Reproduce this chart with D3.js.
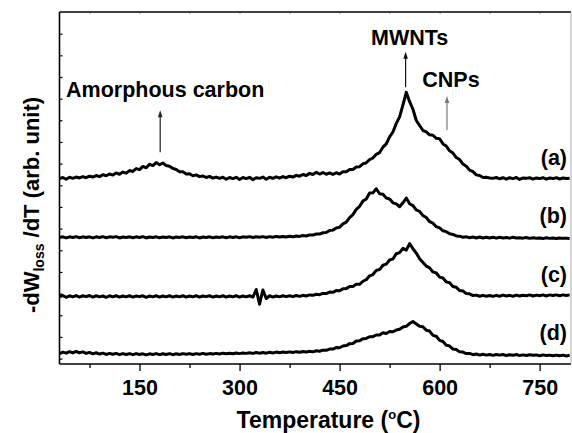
<!DOCTYPE html>
<html>
<head>
<meta charset="utf-8">
<script src="https://cdn.jsdelivr.net/npm/d3@7/dist/d3.min.js"></script>
<style>
  body { margin: 0; background: #fff; }
  svg text { font-family: Arial, "Liberation Sans", sans-serif; font-weight: bold; fill: #000; }
</style>
</head>
<body>
<div id="d3_div"></div>
<script>
// Temperature (deg C) at which the four DTG curves are sampled
var temperature = [
  30, 35, 40, 45, 50, 55, 60, 65, 70, 75,
  80, 85, 90, 95, 100, 105, 110, 115, 120, 125,
  130, 135, 140, 145, 150, 155, 160, 165, 170, 175,
  180, 185, 190, 195, 200, 205, 210, 215, 220, 225,
  230, 235, 240, 245, 250, 255, 260, 265, 270, 275,
  280, 285, 290, 295, 300, 305, 310, 315, 320, 325,
  330, 335, 340, 345, 350, 355, 360, 365, 370, 375,
  380, 385, 390, 395, 400, 405, 410, 415, 420, 425,
  430, 435, 440, 445, 450, 455, 460, 465, 470, 475,
  480, 485, 490, 495, 500, 505, 510, 515, 520, 525,
  530, 535, 540, 545, 550, 555, 560, 565, 570, 575,
  580, 585, 590, 595, 600, 605, 610, 615, 620, 625,
  630, 635, 640, 645, 650, 655, 660, 665, 670, 675,
  680, 685, 690, 695, 700, 705, 710, 715, 720, 725,
  730, 735, 740, 745, 750, 755, 760, 765, 770, 775,
  780, 785, 790, 795];

// -dW/dT of each sample (arb. unit), above its own baseline
var curveA = [
  0.00, 0.05, -0.03, 0.06, 0.01, 0.07, 0.03, 0.09, 0.04, 0.11,
  0.07, 0.14, 0.09, 0.18, 0.13, 0.21, 0.16, 0.26, 0.20, 0.30,
  0.25, 0.37, 0.33, 0.46, 0.41, 0.56, 0.50, 0.66, 0.60, 0.74,
  0.64, 0.72, 0.60, 0.57, 0.47, 0.42, 0.32, 0.31, 0.21, 0.22,
  0.13, 0.17, 0.09, 0.12, 0.05, 0.10, 0.02, 0.07, 0.01, 0.06,
  -0.03, 0.05, 0.00, 0.06, -0.04, 0.05, 0.00, 0.06, -0.05, 0.04,
  0.01, 0.07, -0.03, 0.06, 0.01, 0.08, 0.02, 0.09, 0.04, 0.11,
  0.07, 0.15, 0.11, 0.19, 0.14, 0.24, 0.19, 0.29, 0.21, 0.28,
  0.20, 0.26, 0.19, 0.27, 0.21, 0.31, 0.31, 0.42, 0.42, 0.54,
  0.55, 0.68, 0.73, 0.88, 0.95, 1.12, 1.20, 1.45, 1.60, 1.93,
  2.15, 2.55, 2.85, 3.40, 3.98, 3.55, 3.20, 2.68, 2.45, 2.22,
  2.16, 2.02, 2.00, 1.86, 1.84, 1.60, 1.50, 1.28, 1.18, 0.97,
  0.88, 0.67, 0.57, 0.39, 0.32, 0.17, 0.14, 0.05, 0.06, 0.03,
  0.01, 0.05, -0.01, 0.04, -0.03, 0.04, 0.00, 0.05, -0.04, 0.03,
  0.01, 0.04, -0.03, 0.03, 0.00, 0.04, -0.03, 0.03, 0.00, 0.04,
  -0.02, 0.03, 0.00, 0.02];

var curveB = [
  0.00, 0.03, -0.02, 0.03, 0.00, 0.04, -0.01, 0.03, 0.00, 0.03,
  -0.02, 0.03, 0.00, 0.04, -0.01, 0.03, 0.01, 0.04, -0.02, 0.02,
  0.00, 0.03, -0.01, 0.03, 0.00, 0.04, -0.02, 0.02, 0.00, 0.03,
  -0.01, 0.02, 0.00, 0.03, -0.02, 0.02, 0.00, 0.03, -0.01, 0.02,
  0.00, 0.03, -0.02, 0.02, 0.00, 0.03, -0.01, 0.02, 0.00, 0.03,
  -0.01, 0.03, 0.00, 0.03, -0.01, 0.03, 0.01, 0.04, 0.00, 0.03,
  0.01, 0.04, 0.00, 0.04, 0.01, 0.05, 0.02, 0.05, 0.02, 0.06,
  0.03, 0.07, 0.05, 0.09, 0.07, 0.12, 0.11, 0.16, 0.16, 0.22,
  0.23, 0.32, 0.34, 0.44, 0.47, 0.63, 0.71, 0.92, 1.06, 1.30,
  1.44, 1.68, 1.78, 2.05, 2.06, 2.25, 2.02, 2.00, 1.82, 1.78,
  1.60, 1.55, 1.42, 1.60, 1.82, 1.56, 1.47, 1.27, 1.20, 1.01,
  0.92, 0.73, 0.66, 0.50, 0.44, 0.31, 0.27, 0.17, 0.14, 0.07,
  0.06, 0.01, 0.03, -0.01, 0.02, -0.02, 0.02, -0.02, 0.01, -0.02,
  0.01, -0.03, 0.01, -0.02, 0.00, -0.03, 0.01, -0.02, -0.01, -0.03,
  0.00, -0.04, -0.01, -0.03, -0.02, -0.05, -0.01, -0.04, -0.02, -0.05,
  -0.02, -0.04, -0.03, -0.05];

var curveC = [
  -0.03, 0.02, -0.06, 0.01, -0.04, 0.02, -0.05, 0.01, -0.03, 0.02,
  -0.05, 0.01, -0.04, 0.00, -0.06, 0.01, -0.04, 0.01, -0.05, 0.00,
  -0.04, 0.01, -0.05, 0.00, -0.03, 0.01, -0.06, 0.00, -0.04, 0.01,
  -0.05, 0.00, -0.04, 0.01, -0.05, 0.00, -0.04, 0.01, -0.05, 0.00,
  -0.04, 0.01, -0.05, 0.00, -0.03, 0.01, -0.05, 0.00, -0.04, 0.01,
  -0.05, 0.00, -0.04, 0.01, -0.05, 0.00, -0.04, 0.01, -0.05, 0.30,
  -0.38, 0.28, -0.12, 0.01, -0.05, 0.00, -0.04, 0.01, -0.03, 0.01,
  -0.03, 0.02, -0.02, 0.03, 0.00, 0.05, 0.03, 0.08, 0.06, 0.12,
  0.11, 0.18, 0.17, 0.25, 0.24, 0.33, 0.34, 0.44, 0.44, 0.54,
  0.54, 0.68, 0.75, 0.93, 0.99, 1.18, 1.22, 1.42, 1.47, 1.66,
  1.71, 1.95, 2.00, 2.20, 2.12, 2.42, 2.18, 1.98, 1.72, 1.55,
  1.38, 1.30, 1.11, 1.06, 0.87, 0.83, 0.65, 0.61, 0.44, 0.40,
  0.25, 0.23, 0.11, 0.10, 0.02, 0.04, -0.01, 0.03, -0.01, 0.02,
  -0.02, 0.03, -0.01, 0.04, 0.00, 0.03, -0.01, 0.04, 0.00, 0.03,
  0.01, 0.05, 0.00, 0.04, 0.01, 0.05, 0.00, 0.05, 0.02, 0.05,
  0.01, 0.05, 0.02, 0.05];

var curveD = [
  0.04, 0.11, 0.06, 0.13, 0.07, 0.14, 0.08, 0.12, 0.05, 0.10,
  0.03, 0.08, 0.02, 0.06, 0.00, 0.05, 0.01, 0.05, -0.01, 0.04,
  0.00, 0.04, -0.01, 0.04, 0.00, 0.03, -0.02, 0.03, 0.00, 0.04,
  -0.01, 0.03, 0.00, 0.04, -0.01, 0.03, 0.00, 0.04, 0.01, 0.04,
  0.00, 0.04, 0.01, 0.05, 0.01, 0.04, 0.02, 0.05, 0.02, 0.06,
  0.03, 0.06, 0.03, 0.07, 0.04, 0.07, 0.05, 0.08, 0.05, 0.09,
  0.06, 0.09, 0.06, 0.10, 0.07, 0.11, 0.08, 0.11, 0.09, 0.12,
  0.09, 0.13, 0.10, 0.14, 0.11, 0.15, 0.12, 0.17, 0.15, 0.20,
  0.19, 0.25, 0.25, 0.32, 0.31, 0.39, 0.41, 0.50, 0.51, 0.62,
  0.63, 0.73, 0.74, 0.82, 0.82, 0.90, 0.90, 1.00, 0.97, 1.06,
  1.05, 1.13, 1.16, 1.27, 1.30, 1.43, 1.52, 1.41, 1.30, 1.28,
  1.12, 1.08, 0.88, 0.84, 0.65, 0.60, 0.43, 0.39, 0.25, 0.23,
  0.12, 0.11, 0.04, 0.05, -0.01, 0.02, -0.03, 0.01, -0.03, 0.00,
  -0.04, 0.00, -0.03, 0.00, -0.05, -0.01, -0.04, 0.00, -0.05, -0.02,
  -0.05, -0.01, -0.04, -0.02, -0.06, -0.02, -0.05, -0.03, -0.06, -0.03,
  -0.06, -0.03, -0.07, -0.04];

var curves = [curveA, curveB, curveC, curveD];
var curveNames = ["(a)", "(b)", "(c)", "(d)"];
// vertical shift of each curve so they stack
var curveOffsets = [8.56, 5.84, 3.14, 0.44];

var xTicks = [150, 300, 450, 600, 750];
var xMinorTicks = [75, 225, 375, 525, 675];
var yTicks = [0.25, 1.25, 2.25, 3.25, 4.25, 5.25, 6.25, 7.25, 8.25,
              9.25, 10.25, 11.25, 12.25, 13.25, 14.25, 15.25];

// peak assignments marked with arrows on curve (a)
var peakNames = ["Amorphous carbon", "MWNTs", "CNPs"];
var peakTemps = [181, 549, 611];
var arrowFrom = [9.78, 12.78, 10.80];
var arrowTo = [11.72, 14.42, 12.37];

var margin = {top: 12, right: 1, bottom: 69, left: 59.5},
    width = 572 - margin.left - margin.right,
    height = 433 - margin.top - margin.bottom;

var svg = d3.select("#d3_div")
  .append("svg")
    .attr("width", width + margin.left + margin.right)
    .attr("height", height + margin.top + margin.bottom)
  .append("g")
    .attr("transform", "translate(" + margin.left + "," + margin.top + ")");

var x = d3.scaleLinear().domain([30, 797]).range([0, width]);
var y = d3.scaleLinear().domain([0, 16.25]).range([height, 0]);

// bottom axis, ticks outward
var xAxis = svg.append("g")
  .attr("transform", "translate(0," + height + ")")
  .call(d3.axisBottom(x).tickValues(xTicks).tickSize(7).tickPadding(9));
xAxis.select(".domain").remove();
xAxis.selectAll("text").style("font-size", "21.5px");
xAxis.selectAll("line").attr("stroke-width", 1.3);

var xMinor = svg.append("g")
  .attr("transform", "translate(0," + height + ")")
  .call(d3.axisBottom(x).tickValues(xMinorTicks).tickSize(4).tickFormat(""));
xMinor.select(".domain").remove();
xMinor.selectAll("line").attr("stroke-width", 1.3);

// top axis, faint ticks
var xTop = svg.append("g")
  .call(d3.axisBottom(x).tickValues(xTicks.concat(xMinorTicks)).tickSize(2).tickFormat(""));
xTop.select(".domain").remove();
xTop.selectAll("line").attr("stroke", "#999");

// left axis, ticks inward, no labels
var yAxis = svg.append("g")
  .call(d3.axisRight(y).tickValues(yTicks).tickSize(3).tickFormat(""));
yAxis.select(".domain").remove();
yAxis.selectAll("line").attr("stroke-width", 1.2);

// frame
svg.append("line").attr("x1", 0).attr("x2", width).attr("y1", height).attr("y2", height)
  .attr("stroke", "#000").attr("stroke-width", 1.6);
svg.append("line").attr("x1", 0).attr("x2", width).attr("y1", 0).attr("y2", 0)
  .attr("stroke", "#000").attr("stroke-width", 1.4);
svg.append("line").attr("x1", 0).attr("x2", 0).attr("y1", 0).attr("y2", height)
  .attr("stroke", "#000").attr("stroke-width", 1.6);
svg.append("line").attr("x1", width).attr("x2", width).attr("y1", 0).attr("y2", height)
  .attr("stroke", "#aaa").attr("stroke-width", 1);

svg.append("clipPath").attr("id", "plotclip")
  .append("rect").attr("width", width).attr("height", height);

// the four curves
curves.forEach(function(values, k) {
  svg.append("path")
    .datum(values)
    .attr("clip-path", "url(#plotclip)")
    .attr("fill", "none")
    .attr("stroke", "#000")
    .attr("stroke-width", 3)
    .attr("stroke-linejoin", "round")
    .attr("d", d3.line()
      .x(function(d, i) { return x(temperature[i]); })
      .y(function(d) { return y(d + curveOffsets[k]); })
    );

  svg.append("text")
    .attr("x", width - 4)
    .attr("y", y(curveOffsets[k]) - 14)
    .attr("text-anchor", "end")
    .style("font-size", "21.5px")
    .text(curveNames[k]);
});

// arrows and peak labels
var arrowColors = ["#222", "#111", "#777"];
var labelShift = [5, 4, 4];
var labelGap = [13, 6.5, 9];
peakNames.forEach(function(name, k) {
  var ax = x(peakTemps[k]);
  var yTip = y(arrowTo[k]);
  svg.append("line")
    .attr("x1", ax).attr("x2", ax)
    .attr("y1", y(arrowFrom[k])).attr("y2", yTip + 5)
    .attr("stroke", arrowColors[k]).attr("stroke-width", 1.2);
  svg.append("path")
    .attr("d", "M" + ax + "," + yTip + "L" + (ax - 2.3) + "," + (yTip + 7) + "L" + (ax + 2.3) + "," + (yTip + 7) + "Z")
    .attr("fill", arrowColors[k]);
  svg.append("text")
    .attr("x", ax + labelShift[k])
    .attr("y", yTip - labelGap[k])
    .attr("text-anchor", "middle")
    .style("font-size", "21.5px")
    .text(name);
});

// axis titles
var xt = svg.append("text")
  .attr("x", 269)
  .attr("y", height + 64)
  .attr("text-anchor", "middle")
  .style("font-size", "23px");
xt.append("tspan").text("Temperature (");
xt.append("tspan").attr("dy", -9).style("font-size", "13px").text("o");
xt.append("tspan").attr("dy", 9).text("C)");

var yt = svg.append("text")
  .attr("transform", "translate(-21," + 193 + ") rotate(-90)")
  .attr("text-anchor", "middle")
  .style("font-size", "22px");
yt.append("tspan").text("-dW");
yt.append("tspan").attr("dy", 5).style("font-size", "14px").text("loss");
yt.append("tspan").attr("dy", -5).text(" /dT (arb. unit)");
</script>
</body>
</html>
